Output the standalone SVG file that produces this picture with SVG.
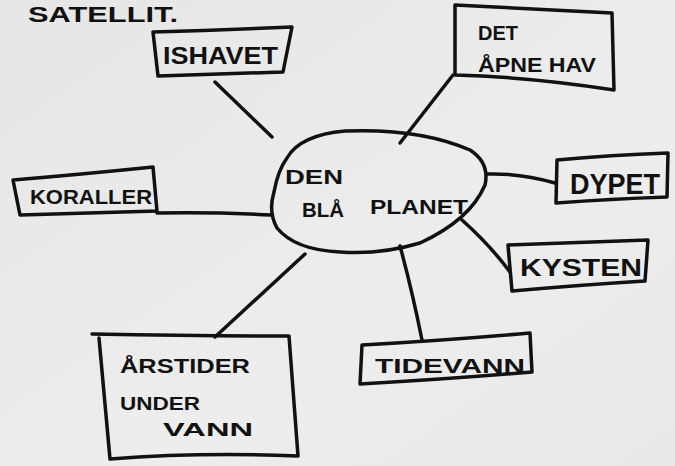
<svg xmlns="http://www.w3.org/2000/svg" width="675" height="466" viewBox="0 0 675 466">
<defs>
<linearGradient id="bg" x1="0" y1="0" x2="1" y2="1">
<stop offset="0" stop-color="#e6e6e6"/>
<stop offset="0.6" stop-color="#ededed"/>
<stop offset="1" stop-color="#e9e9e9"/>
</linearGradient>
</defs>
<style>
.ln{fill:none;stroke:#111;stroke-width:3.5;stroke-linecap:round;stroke-linejoin:round}
.tx{font-family:"Liberation Sans",Arial,sans-serif;font-weight:bold;fill:#111}
</style>
<rect width="675" height="466" fill="url(#bg)"/>
<text class="tx" x="28" y="22" font-size="22" textLength="150" lengthAdjust="spacingAndGlyphs">SATELLIT.</text>
<g id="connectors" class="ln">
<path d="M215 82 L272 137"/>
<path d="M453 75 L400 143"/>
<path d="M157 213 Q215 212 272 215"/>
<path d="M487 174 Q520 173 555 183"/>
<path d="M462 220 Q490 245 510 272"/>
<path d="M305 254 L215 337"/>
<path d="M400 246 Q412 290 422 340"/>
</g>
<g id="center">
<path class="ln" d="M287 158 Q300 135 345 131 Q420 128 470 150 Q490 163 485 185 Q470 220 420 243 Q380 255 340 252 Q295 250 277 228 Q268 212 274 192 Q278 170 287 158 Z"/>
<text class="tx" x="285" y="184" font-size="20" textLength="58" lengthAdjust="spacingAndGlyphs">DEN</text>
<text class="tx" x="302" y="217" font-size="20" textLength="42" lengthAdjust="spacingAndGlyphs">BLÅ</text>
<text class="tx" x="370" y="214" font-size="20" textLength="98" lengthAdjust="spacingAndGlyphs">PLANET</text>
</g>
<g id="ishavet">
<path class="ln" d="M153 32 Q220 30 292 27 L283 72 Q220 74 158 76 Z"/>
<text class="tx" x="163" y="64" font-size="24" textLength="115" lengthAdjust="spacingAndGlyphs">ISHAVET</text>
</g>
<g id="aapnehav">
<path class="ln" d="M455 5 Q530 9 612 13 L614 90 Q530 77 455 75 Z"/>
<text class="tx" x="478" y="40" font-size="20" textLength="40" lengthAdjust="spacingAndGlyphs">DET</text>
<text class="tx" x="478" y="72" font-size="20" textLength="118" lengthAdjust="spacingAndGlyphs">ÅPNE HAV</text>
</g>
<g id="koraller">
<path class="ln" d="M13 180 Q85 174 153 167 L157 211 Q85 213 20 215 Z"/>
<text class="tx" x="30" y="204" font-size="21" textLength="122" lengthAdjust="spacingAndGlyphs">KORALLER</text>
</g>
<g id="dypet">
<path class="ln" d="M557 160 Q610 155 668 153 L667 197 Q610 199 556 203 Z"/>
<text class="tx" x="570" y="194" font-size="30" textLength="90" lengthAdjust="spacingAndGlyphs">DYPET</text>
</g>
<g id="kysten">
<path class="ln" d="M508 245 L648 240 L645 281 Q580 285 512 291 Z"/>
<text class="tx" x="520" y="276" font-size="24" textLength="122" lengthAdjust="spacingAndGlyphs">KYSTEN</text>
</g>
<g id="aarstider">
<path class="ln" d="M92 334 Q200 336 289 336 L298 456 Q200 452 110 459 L99 338"/>
<text class="tx" x="120" y="373" font-size="20" textLength="130" lengthAdjust="spacingAndGlyphs">ÅRSTIDER</text>
<text class="tx" x="120" y="410" font-size="18" textLength="80" lengthAdjust="spacingAndGlyphs">UNDER</text>
<text class="tx" x="163" y="436" font-size="18" textLength="90" lengthAdjust="spacingAndGlyphs">VANN</text>
</g>
<g id="tidevann">
<path class="ln" d="M362 345 Q450 340 530 333 L532 372 Q450 379 360 384 Z"/>
<text class="tx" x="375" y="373" font-size="20" textLength="150" lengthAdjust="spacingAndGlyphs">TIDEVANN</text>
</g>
</svg>
